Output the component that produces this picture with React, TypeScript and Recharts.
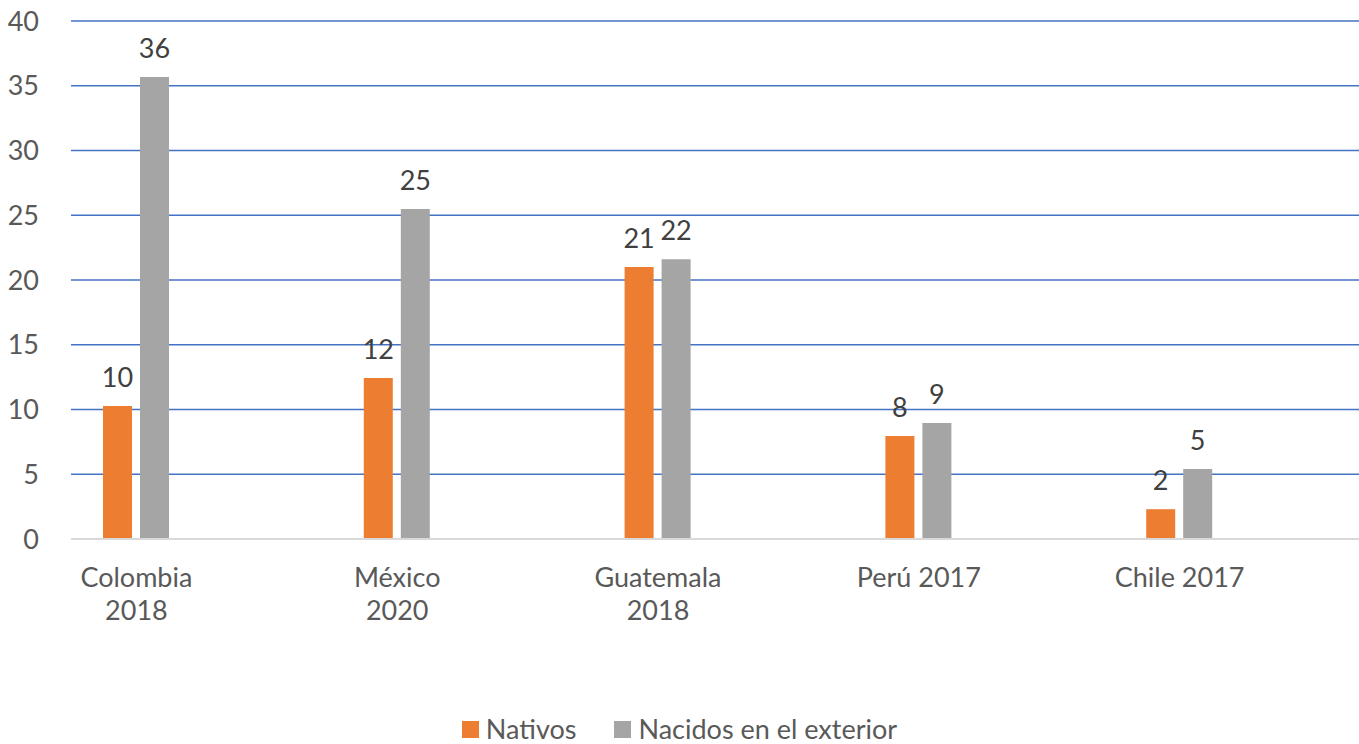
import { BarChart, Bar, XAxis, YAxis, CartesianGrid, Legend, LabelList } from 'recharts';

const categories = ['Colombia\n2018', 'México\n2020', 'Guatemala\n2018', 'Perú 2017', 'Chile 2017'];
const nativos = [10.27, 12.43, 21.0, 7.95, 2.3];
const nacidosExterior = [35.67, 25.48, 21.6, 8.96, 5.4];
const yTicks = [0, 5, 10, 15, 20, 25, 30, 35, 40];
const seriesNames = ['Nativos', 'Nacidos en el exterior'];

const data = categories.map((name, i) => ({
  name,
  nativos: nativos[i],
  exterior: nacidosExterior[i]
}));

const FONT = 'Lato, "Open Sans", sans-serif';
const FS = 27;

function CategoryTick({ x, y, payload }: any) {
  const lines = String(payload.value).split('\n');
  return (
    <text x={x} y={y} textAnchor="middle" fill="#595959" fontSize={FS} fontFamily={FONT}>
      {lines.map((line, i) => (
        <tspan key={i} x={x} dy={i === 0 ? 40 : 33}>
          {line}
        </tspan>
      ))}
    </text>
  );
}

function LegendContent({ payload }: any) {
  const items = [...(payload || [])].sort(
    (a: any, b: any) => seriesNames.indexOf(a.value) - seriesNames.indexOf(b.value)
  );
  return (
    <div style={{ display: 'flex', justifyContent: 'center', gap: 38, fontFamily: FONT, fontSize: FS, color: '#595959', lineHeight: '26px', height: 26 }}>
      {items.map((p: any) => (
        <div key={p.value} style={{ display: 'flex', alignItems: 'center', gap: 7 }}>
          <span style={{ width: 17, height: 17, background: p.color, display: 'inline-block' }} />
          <span>{p.value}</span>
        </div>
      ))}
    </div>
  );
}

export default function App() {
  return (
    <div style={{ position: 'absolute', left: 0, top: 0, width: 1359, height: 744, background: '#fff', overflow: 'hidden' }}>
      <BarChart
        width={1359}
        height={744}
        data={data}
        margin={{ top: 21, right: 0, bottom: 0, left: 0 }}
        barGap={8}
        barSize={29}
      >
        <CartesianGrid vertical={false} stroke="#4472C4" strokeWidth={1.5} />
        <XAxis
          dataKey="name"
          interval={0}
          height={179}
          padding={{ left: -65, right: 49 }}
          axisLine={{ stroke: '#D9D9D9', strokeWidth: 2 }}
          tickLine={false}
          tick={<CategoryTick />}
        />
        <YAxis
          domain={[0, 40]}
          ticks={yTicks}
          width={71}
          axisLine={false}
          tickLine={false}
          tickMargin={26}
          tick={{ fill: '#595959', fontSize: FS, fontFamily: FONT }}
        />
        <Legend
          verticalAlign="bottom"
          wrapperStyle={{ top: 716, left: 0, width: 1359 }}
          content={<LegendContent />}
        />
        <Bar dataKey="nativos" name="Nativos" fill="#ED7D31" isAnimationActive={false}>
          <LabelList
            dataKey="nativos"
            position="top"
            offset={19}
            formatter={(v: any) => Math.round(Number(v))}
            fill="#404040"
            fontSize={FS}
            fontFamily={FONT}
          />
        </Bar>
        <Bar dataKey="exterior" name="Nacidos en el exterior" fill="#A5A5A5" isAnimationActive={false}>
          <LabelList
            dataKey="exterior"
            position="top"
            offset={19}
            formatter={(v: any) => Math.round(Number(v))}
            fill="#404040"
            fontSize={FS}
            fontFamily={FONT}
          />
        </Bar>
      </BarChart>
    </div>
  );
}
